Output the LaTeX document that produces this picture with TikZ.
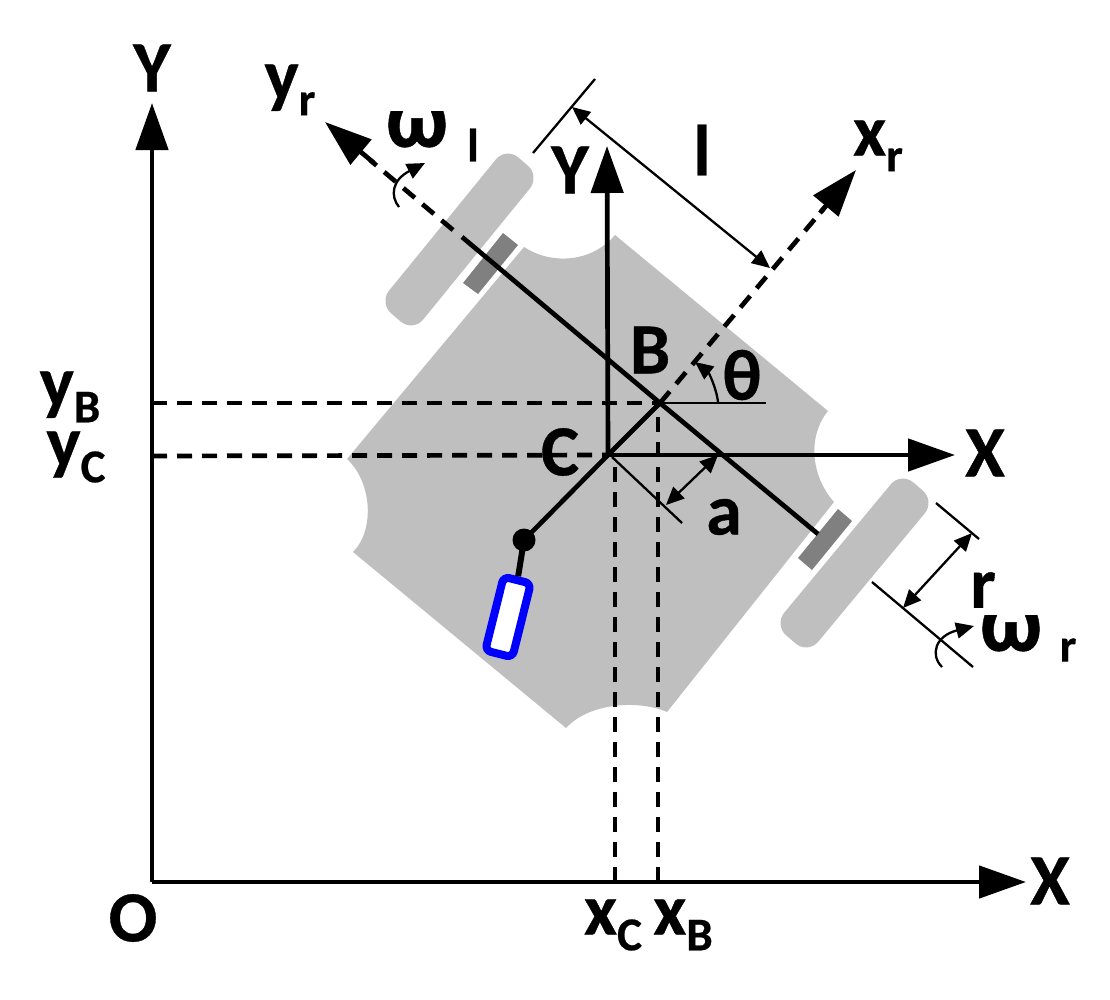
\documentclass[tikz,border=0pt]{standalone}
\usepackage{fontspec}
\setmainfont{Carlito}[BoldFeatures={FakeBold=0.5}]
\usetikzlibrary{arrows.meta}
\definecolor{bodygray}{HTML}{BFBFBF}
\definecolor{axlegray}{HTML}{808080}
\newcommand{\subtxt}[1]{\raisebox{-0.22em}{\fontsize{47}{47}\selectfont #1}}
\tikzset{
  lbl/.style={font=\bfseries\fontsize{72}{72}\selectfont, inner sep=0pt},
  omegalbl/.style={font=\bfseries\fontsize{87}{87}\selectfont, inner sep=0pt},
  bigtip/.style={-{Triangle[length=47pt,width=32pt]}},
  axisline/.style={line width=4.7pt},
  dashline/.style={line width=4.7pt, dash pattern=on 15pt off 10pt},
  thinline/.style={line width=2.3pt},
  smalltip/.style={-{Triangle[length=18pt,width=16pt]}},
  dimtip/.style={{Triangle[length=18pt,width=16pt]}-{Triangle[length=18pt,width=16pt]}},
  wheelbar/.style={fill=bodygray, rounded corners=16pt}
}
\begin{document}
\begin{tikzpicture}[x=1pt, y=-1pt]
\useasboundingbox (0,0) rectangle (1110,999);
\coordinate (O) at (152,882);
\coordinate (Ytop) at (152,103);
\coordinate (Xend) at (1026,882);
\coordinate (C) at (608,455);
\coordinate (B) at (660,403);
\coordinate (Cx) at (955,455);
\coordinate (Cy) at (607,146);
\coordinate (yrtip) at (325,122);
\coordinate (yrjoin) at (462,237);
\coordinate (yrdash) at (453,230);
\coordinate (axleend) at (818,534);
\coordinate (xrtip) at (856,170);
\coordinate (castor) at (524,540);
\fill[bodygray] (615,235) -- (828,411) .. controls (808,435) and (810,475) .. (834,502)
  -- (667,712) .. controls (640,700) and (590,702) .. (566,728)
  -- (353,552) .. controls (375,530) and (372,482) .. (347,459)
  -- (524,247) .. controls (550,264) and (590,264) .. (615,235) -- cycle;
\path[wheelbar] (540,176) -- (413,332) -- (379,303) -- (506,147) -- cycle;
\path[wheelbar] (935,501) -- (808,654) -- (774,625) -- (901,472) -- cycle;
\fill[axlegray] (503,233) -- (518,245) -- (478,294) -- (463,283) -- cycle;
\fill[axlegray] (838,509) -- (852,521) -- (812,570) -- (798,558) -- cycle;
\draw[axisline] (yrjoin) -- (B) -- (axleend);
\draw[dashline] (yrdash) -- (370,160);
\draw[axisline, bigtip] (374,163) -- (yrtip);
\draw[dashline] (B) -- (825,207);
\draw[axisline, bigtip] (820,213) -- (xrtip);
\draw[axisline] (C) -- (B);
\draw[axisline] (C) -- (castor);
\draw[dashline] (152,403) -- (B);
\draw[dashline] (152,456) -- (C);
\draw[dashline] (615,882) -- (615,462);
\draw[dashline] (658,882) -- (658,403);
\draw[axisline, bigtip] (O) -- (Ytop);
\draw[axisline, bigtip] (O) -- (Xend);
\draw[axisline, bigtip] (C) -- (Cx);
\draw[axisline, bigtip] (C) -- (Cy);
\node[draw=blue, fill=white, line width=8pt, rounded corners=6pt, rotate=-14, minimum width=28pt, minimum height=76pt, inner sep=0pt] (caster) at (508,617) {};
\fill (castor) circle (11.5pt);
\draw[line width=6pt] (castor) -- (caster.north);
\draw[thinline] (B) -- (766,403);
\draw[thinline, smalltip] (718,402) .. controls (716,386) and (708,372) .. (695,362);
\draw[thinline] (612,457) -- (682,523);
\draw[thinline, dimtip] (666,505) -- (718,455);
\draw[thinline] (533,153) -- (595,79);
\draw[thinline, dimtip] (572,107) -- (770,268);
\draw[thinline] (936,503) -- (979,539);
\draw[thinline] (872,582) -- (973,667);
\draw[thinline, dimtip] (972,533) -- (903,608);
\draw[thinline, smalltip] (399,207) .. controls (390,196) and (392,180) .. (425,163);
\draw[thinline, smalltip] (942,667) .. controls (930,655) and (935,636) .. (974,626);
\node[lbl] (lblYo) at (152,68) {Y};
\node[lbl] (lblXo) at (1050,881) {X};
\node[lbl] (lblO) at (133,918) {O};
\node[lbl] (lblyr) at (290,90) {y\subtxt{r}};
\node[lbl] (lblxr) at (878,146) {x\subtxt{r}};
\node[lbl] (lbll) at (702,150) {l};
\node[lbl] (lblYc) at (570,170) {Y};
\node[lbl] (lblXc) at (985,453) {X};
\node[lbl] (lblB) at (650,350) {B};
\node[lbl] (lblC) at (560,452) {C};
\node[lbl] (lbltheta) at (742,375) {θ};
\node[lbl] (lbla) at (724,517) {a};
\node[lbl] (lblr) at (983,590) {r};
\begin{scope}
\clip (380,111) rectangle (455,160);
\node[omegalbl] (lblwl) at (417,126) {ω};
\end{scope}
\node[lbl] (lblwlsub) at (473,145) {\subtxt{l}};
\begin{scope}
\clip (975,615) rectangle (1050,665);
\node[omegalbl] (lblwr) at (1011,630) {ω};
\end{scope}
\node[lbl] (lblwrsub) at (1068,650) {\subtxt{r}};
\node[lbl] (lblyB) at (70,397) {y\subtxt{B}};
\node[lbl] (lblyC) at (76,457) {y\subtxt{C}};
\node[lbl] (lblxC) at (613,925) {x\subtxt{C}};
\node[lbl] (lblxB) at (683,925) {x\subtxt{B}};
\end{tikzpicture}
\end{document}
